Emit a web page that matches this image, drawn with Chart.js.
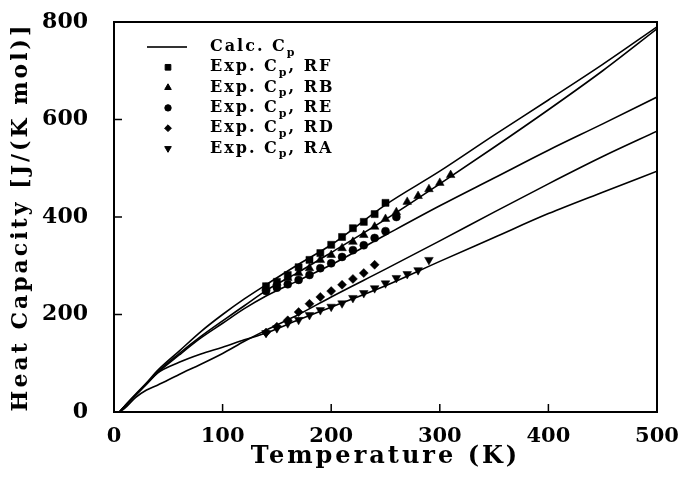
<!DOCTYPE html>
<html>
<head>
<meta charset="utf-8">
<script src="https://cdn.jsdelivr.net/npm/chart.js@4.4.1/dist/chart.umd.min.js"></script>
<style>
  body { margin: 0; background: #fff; }
  #wrap { width: 681px; height: 480px; }
</style>
</head>
<body>
<div id="wrap"><canvas id="cpChart" width="681" height="480"></canvas></div>
<script>
// ----- calculated Cp curves -----
const calcT  = [5, 10, 20, 30, 40, 60, 80, 100, 120, 140, 170, 200, 250, 300, 350, 400, 450, 500];
const calcRF = [0, 13, 37, 60, 85, 125, 165, 200, 232, 261, 303, 343, 425, 494, 568, 640, 713, 790];
const calcRB = [0, 12, 35, 58, 82, 120, 155, 187, 218, 249, 287, 327, 395, 468, 543, 620, 700, 786];
const calcRE = [0, 12, 35, 57, 80, 117, 152, 182, 212, 238, 270, 302, 363, 423, 480, 537, 591, 646];
const calcRD = [0, 8, 30, 45, 55, 77, 98, 120, 145, 168, 200, 236, 293, 351, 410, 468, 524, 576];
const calcRA = [0, 12, 35, 58, 80, 102, 119, 133, 148, 162, 189, 215, 259, 309, 358, 407, 451, 494];

// ----- experimental points -----
const expRF_T  = [140, 150, 160, 170, 180, 190, 200, 210, 220, 230, 240, 250];
const expRF_Cp = [258, 267, 281, 297, 312, 326, 343, 359, 377, 390, 406, 429];
const expRB_T  = [140, 150, 160, 170, 180, 190, 200, 210, 220, 230, 240, 250, 260, 270, 280, 290, 300, 310];
const expRB_Cp = [255, 265, 275, 285, 295, 312, 322, 336, 349, 363, 380, 396, 410, 431, 443, 457, 470, 486];
const expRE_T  = [140, 150, 160, 170, 180, 190, 200, 210, 220, 230, 240, 250, 260];
const expRE_Cp = [248, 255, 262, 271, 281, 295, 305, 318, 332, 342, 357, 371, 400];
const expRD_T  = [140, 150, 160, 170, 180, 190, 200, 210, 220, 230, 240];
const expRD_Cp = [163, 175, 188, 205, 222, 236, 248, 261, 273, 285, 302];
const expRA_T  = [140, 150, 160, 170, 180, 190, 200, 210, 220, 230, 240, 250, 260, 270, 280, 290];
const expRA_Cp = [162, 172, 182, 189, 199, 209, 216, 223, 234, 244, 254, 264, 275, 283, 291, 312];

const xTicks = [0, 100, 200, 300, 400, 500];
const yTicks = [0, 200, 400, 600, 800];

const legendRows = [
    { label: 'Calc. C', sub: 'p', rest: '', style: 'line' },
    { label: 'Exp. C', sub: 'p', rest: ', RF', style: 'rect', radius: 4 },
    { label: 'Exp. C', sub: 'p', rest: ', RB', style: 'triangle', radius: 3.8 },
    { label: 'Exp. C', sub: 'p', rest: ', RE', style: 'circle', radius: 3.2 },
    { label: 'Exp. C', sub: 'p', rest: ', RD', style: 'rectRot', radius: 3.4 },
    { label: 'Exp. C', sub: 'p', rest: ', RA', style: 'triangle', radius: 3.8, rotation: 180 }
];

const FONT = "'DejaVu Serif', 'Liberation Serif', serif";

function pairs(xs, ys) {
    return xs.map((v, i) => ({ x: v, y: ys[i] }));
}

function calcSet(ys) {
    return {
        data: pairs(calcT, ys), showLine: true, borderColor: '#000', borderWidth: 1.6,
        pointRadius: 0, cubicInterpolationMode: 'monotone', fill: false
    };
}

function expSet(xs, ys, style, radius, rotation) {
    return {
        data: pairs(xs, ys), showLine: false, pointStyle: style, pointRadius: radius,
        rotation: rotation || 0, backgroundColor: '#000', borderColor: '#000', borderWidth: 0.5
    };
}

function noPad(s) {
    s.paddingLeft = 0; s.paddingRight = 0; s.paddingTop = 0; s.paddingBottom = 0;
}

// titles get wide letter spacing, tick labels (drawn after datasets, z=1) none
const frameAndLegend = {
    id: 'frameAndLegend',
    beforeLayout(chart) { chart.ctx.letterSpacing = '0px'; },
    beforeDraw(chart) { chart.ctx.letterSpacing = '3px'; },
    beforeDatasetsDraw(chart) { chart.ctx.letterSpacing = '0px'; },
    afterDraw(chart) {
        const c = chart.ctx;
        const a = chart.chartArea;
        const xs = chart.scales.x, ys = chart.scales.y;

        c.save();
        c.fillStyle = '#000';
        c.strokeStyle = '#000';
        c.textBaseline = 'middle';
        c.textAlign = 'left';
        c.letterSpacing = '2px';
        legendRows.forEach((row, i) => {
            const ly = 47 + i * 20.3;
            if (row.style === 'line') {
                c.fillRect(147, ly - 0.8, 40, 1.6);
            } else {
                Chart.helpers.drawPoint(c, { pointStyle: row.style, radius: row.radius, rotation: row.rotation || 0, borderWidth: 0.5 }, 168, ly);
            }
            let tx = 210;
            c.font = 'bold 16px ' + FONT;
            c.fillText(row.label, tx, ly);
            tx += c.measureText(row.label).width;
            c.font = 'bold 11px ' + FONT;
            c.fillText(row.sub, tx, ly + 6);
            tx += c.measureText(row.sub).width;
            c.font = 'bold 16px ' + FONT;
            c.fillText(row.rest, tx, ly);
        });
        c.restore();

        // frame + inward ticks, drawn last
        c.save();
        c.strokeStyle = '#000';
        c.lineWidth = 2;
        c.strokeRect(a.left, a.top, a.right - a.left, a.bottom - a.top);
        c.beginPath();
        xTicks.forEach(v => {
            const px = xs.getPixelForValue(v);
            c.moveTo(px, a.bottom);
            c.lineTo(px, a.bottom - 8);
        });
        yTicks.forEach(v => {
            const py = ys.getPixelForValue(v);
            c.moveTo(a.left, py);
            c.lineTo(a.left + 8, py);
        });
        c.lineWidth = 1.5;
        c.stroke();
        c.restore();
    }
};

const ctx = document.getElementById('cpChart').getContext('2d');
new Chart(ctx, {
    type: 'scatter',
    data: {
        datasets: [
            calcSet(calcRF), calcSet(calcRB), calcSet(calcRE), calcSet(calcRD), calcSet(calcRA),
            expSet(expRF_T, expRF_Cp, 'rect', 5),
            expSet(expRB_T, expRB_Cp, 'triangle', 5),
            expSet(expRE_T, expRE_Cp, 'circle', 4),
            expSet(expRD_T, expRD_Cp, 'rectRot', 4.5),
            expSet(expRA_T, expRA_Cp, 'triangle', 5, 180)
        ]
    },
    options: {
        responsive: false,
        animation: false,
        layout: { padding: { left: 0, right: 24, top: 22, bottom: 0 } },
        plugins: { legend: { display: false }, tooltip: { enabled: false } },
        scales: {
            x: {
                type: 'linear', min: 0, max: 500,
                afterBuildTicks: s => { s.ticks = xTicks.map(v => ({ value: v })); },
                afterFit: s => { s.height = 68; noPad(s); },
                grid: { display: false, drawTicks: false },
                border: { display: true, color: '#000', width: 2 },
                ticks: { z: 1, color: '#000', padding: 12, font: { family: FONT, size: 21, weight: 'bold' } },
                title: {
                    display: true, text: 'Temperature (K)', color: '#000',
                    font: { family: FONT, size: 24, weight: 'bold' }, padding: { top: 0, bottom: 9 }
                }
            },
            y: {
                type: 'linear', min: 0, max: 800,
                afterBuildTicks: s => { s.ticks = yTicks.map(v => ({ value: v })); },
                afterFit: s => { s.width = 114; noPad(s); },
                grid: { display: false, drawTicks: false },
                border: { display: true, color: '#000', width: 2 },
                ticks: { z: 1, color: '#000', padding: 26, font: { family: FONT, size: 22, weight: 'bold' } },
                title: {
                    display: true, text: 'Heat Capacity [J/(K mol)]', color: '#000',
                    font: { family: FONT, size: 22, weight: 'bold' }, padding: { top: 8, bottom: 0 }
                }
            }
        }
    },
    plugins: [frameAndLegend]
});
</script>
</body>
</html>
